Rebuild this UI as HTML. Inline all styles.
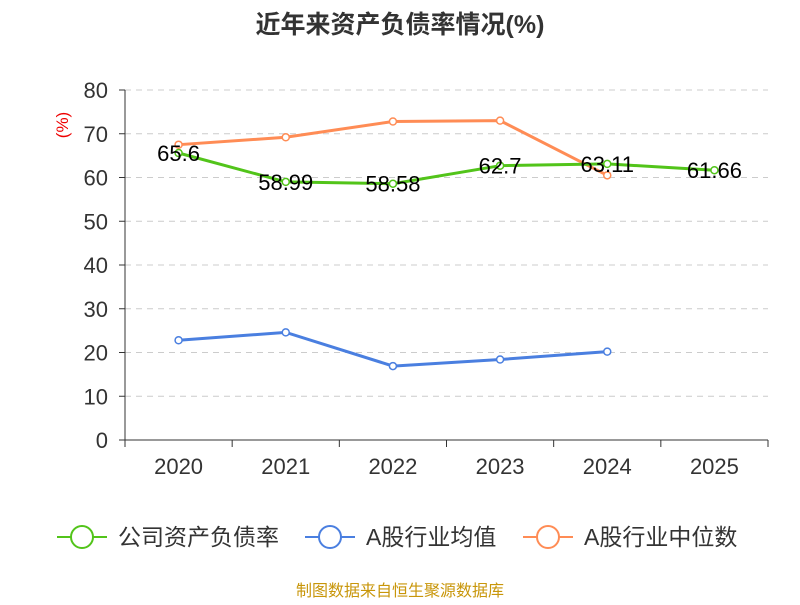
<!DOCTYPE html>
<html><head><meta charset="utf-8"><style>
body{margin:0;background:#fff;font-family:"Liberation Sans","Noto Sans CJK SC",sans-serif}
svg text{font-family:"Liberation Sans","Noto Sans CJK SC",sans-serif}
</style></head><body>
<svg id="c" width="800" height="600" xmlns="http://www.w3.org/2000/svg">
<text x="400" y="33" text-anchor="middle" font-size="25" font-weight="bold" fill="#333">近年来资产负债率情况(%)</text>
<text transform="translate(68,125) rotate(-90)" text-anchor="middle" font-size="17" fill="#e00">(%)</text>
<g id="grid"></g><g id="axes"></g><g id="series"></g><g id="labels"></g>
<g id="legend"></g>
<text x="400" y="596" text-anchor="middle" font-size="16" fill="#c8960a">制图数据来自恒生聚源数据库</text>
</svg>
<script>
const categories=["2020","2021","2022","2023","2024","2025"];
const companyValues=[65.6,58.99,58.58,62.7,63.11,61.66];
const industryAvg=[22.8,24.6,16.9,18.4,20.2];
const industryMedian=[67.5,69.2,72.8,73.0,60.5];
const yTicks=[0,10,20,30,40,50,60,70,80];
const seriesNames=["公司资产负债率","A股行业均值","A股行业中位数"];
const colors=["#52c41a","#4a7fe0","#ff8c55"];
const NS="http://www.w3.org/2000/svg";
const L=125,R=768,T=90,B=440;
const bw=(R-L)/categories.length;
const x=i=>L+bw*(i+0.5);
const y=v=>B-(v/80)*(B-T);
function mk(tag,attrs,parent){const e=document.createElementNS(NS,tag);for(const k in attrs)e.setAttribute(k,attrs[k]);document.getElementById(parent).appendChild(e);return e;}
yTicks.forEach(t=>{
 if(t>0){const g=mk("line",{x1:L,x2:R,y1:y(t),y2:y(t),stroke:"#ccc","stroke-dasharray":"6,5"},"grid");
 
 }
 const tk=mk("line",{x1:L-6,x2:L,y1:y(t),y2:y(t),stroke:"#333"},"axes");
 
 
 const tx=mk("text",{x:L-17,y:y(t)+8,"text-anchor":"end","font-size":22,fill:"#333"},"axes");tx.textContent=t;
 
 
});
let a=mk("line",{x1:L,x2:L,y1:T,y2:B,stroke:"#333"},"axes");


a=mk("line",{x1:L,x2:R,y1:B,y2:B,stroke:"#333"},"axes");


for(let i=0;i<=categories.length;i++){const t=mk("line",{x1:L+bw*i,x2:L+bw*i,y1:B,y2:B+7,stroke:"#333"},"axes");
 
 }
categories.forEach((c,i)=>{const t=mk("text",{x:x(i),y:B+34,"text-anchor":"middle","font-size":22,fill:"#333"},"axes");t.textContent=c;
 
 });
function series(vals,col,name){
 const p=mk("polyline",{points:vals.map((v,i)=>x(i)+","+y(v)).join(" "),fill:"none",stroke:col,"stroke-width":3},"series");
 
 
 vals.forEach((v,i)=>{const c=mk("circle",{cx:x(i),cy:y(v),r:3.5,fill:"#fff",stroke:col,"stroke-width":1.5},"series");
  
  });
}
series(industryAvg,colors[1],"industry-average");
series(industryMedian,colors[2],"industry-median");
series(companyValues,colors[0],"company-ratio");
companyValues.forEach((v,i)=>{const t=mk("text",{x:x(i),y:y(v)+8,"text-anchor":"middle","font-size":22,fill:"#000"},"labels");t.textContent=v;
 
 });
const lx=[57,305,523];
seriesNames.forEach((n,i)=>{
 const l=mk("line",{x1:lx[i],x2:lx[i]+50,y1:537,y2:537,stroke:colors[i],"stroke-width":2},"legend");
 
 
 const c=mk("circle",{cx:lx[i]+25,cy:537,r:11,fill:"#fff",stroke:colors[i],"stroke-width":2},"legend");
 
 
 const t=mk("text",{x:lx[i]+61,y:545,"font-size":23,fill:"#333"},"legend");t.textContent=n;
 
 
});
</script>
</body></html>
